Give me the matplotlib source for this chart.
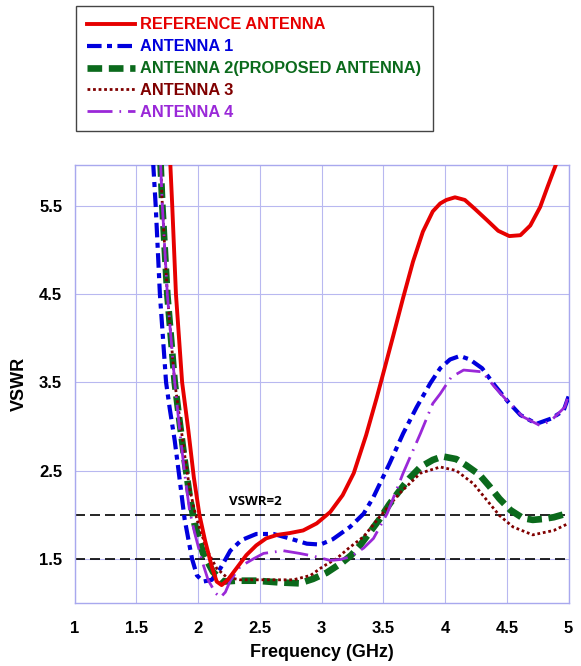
import numpy as np
import matplotlib
matplotlib.use("Agg")
import matplotlib.pyplot as plt

plt.rcParams['font.family'] = ['Liberation Sans', 'DejaVu Sans']
plt.rcParams['font.weight'] = 'bold'

# values (frequency in GHz, VSWR)
ref_f = [1.772, 1.79, 1.82, 1.87, 1.92, 1.965, 2.01, 2.055, 2.11, 2.15, 2.19, 2.24, 2.31,
         2.39, 2.47, 2.55, 2.64, 2.74, 2.85, 2.96, 3.07, 3.17, 3.26, 3.36, 3.445, 3.51,
         3.58, 3.66, 3.74, 3.82, 3.90, 3.96, 4.01, 4.08, 4.16, 4.24, 4.34, 4.43, 4.52,
         4.61, 4.69, 4.77, 4.83, 4.90]
ref_v = [6.05, 5.50, 4.50, 3.50, 2.96, 2.42, 2.00, 1.71, 1.41, 1.24, 1.20, 1.26, 1.39,
         1.54, 1.65, 1.73, 1.77, 1.79, 1.82, 1.90, 2.03, 2.22, 2.47, 2.90, 3.32, 3.66,
         4.03, 4.46, 4.87, 5.21, 5.44, 5.53, 5.57, 5.60, 5.57, 5.47, 5.34, 5.22, 5.16,
         5.17, 5.28, 5.49, 5.72, 5.98]

a1_f = [1.635, 1.656, 1.69, 1.74, 1.77, 1.81, 1.85, 1.89, 1.95, 1.99, 2.04, 2.11, 2.18,
        2.26, 2.35, 2.47, 2.61, 2.74, 2.88, 2.99, 3.09, 3.23, 3.34, 3.42, 3.55, 3.66,
        3.77, 3.88, 3.96, 4.04, 4.12, 4.20, 4.30, 4.40, 4.51, 4.61, 4.74, 4.86, 4.96, 5.00]
a1_v = [6.00, 5.50, 4.50, 3.50, 3.20, 2.84, 2.40, 1.95, 1.50, 1.31, 1.24, 1.26, 1.39,
        1.59, 1.71, 1.78, 1.78, 1.73, 1.67, 1.66, 1.72, 1.86, 2.01, 2.20, 2.58, 2.92,
        3.22, 3.49, 3.66, 3.76, 3.80, 3.76, 3.66, 3.47, 3.28, 3.13, 3.03, 3.09, 3.18, 3.34]

a2_f = [1.695, 1.71, 1.75, 1.81, 1.85, 1.89, 1.93, 1.97, 2.04, 2.12, 2.20, 2.31, 2.47,
        2.66, 2.82, 2.93, 3.04, 3.17, 3.24, 3.31, 3.38, 3.47, 3.55, 3.63, 3.71, 3.80,
        3.90, 3.98, 4.09, 4.17, 4.28, 4.36, 4.44, 4.53, 4.63, 4.71, 4.79, 4.88, 4.98]
a2_v = [6.00, 5.50, 4.50, 3.50, 3.05, 2.62, 2.22, 1.90, 1.56, 1.35, 1.24, 1.25, 1.25,
        1.23, 1.22, 1.27, 1.34, 1.46, 1.54, 1.65, 1.78, 1.95, 2.12, 2.27, 2.41, 2.54,
        2.62, 2.66, 2.63, 2.56, 2.45, 2.32, 2.18, 2.05, 1.96, 1.94, 1.95, 1.97, 2.01]

a3_f = [1.695, 1.71, 1.75, 1.81, 1.85, 1.89, 1.93, 1.97, 2.00, 2.07, 2.15, 2.23, 2.34,
        2.58, 2.77, 2.91, 3.01, 3.12, 3.22, 3.34, 3.47, 3.63, 3.80, 3.96, 4.09, 4.23,
        4.34, 4.44, 4.55, 4.71, 4.88, 5.00]
a3_v = [6.00, 5.50, 4.50, 3.50, 3.10, 2.68, 2.30, 2.05, 1.90, 1.60, 1.39, 1.29, 1.26,
        1.26, 1.26, 1.31, 1.41, 1.50, 1.62, 1.75, 1.975, 2.24, 2.47, 2.54, 2.50, 2.35,
        2.16, 1.99, 1.86, 1.77, 1.82, 1.90]

a4_f = [1.695, 1.71, 1.75, 1.81, 1.85, 1.89, 1.93, 1.97, 2.03, 2.08, 2.14, 2.18, 2.22,
        2.26, 2.34, 2.45, 2.53, 2.69, 2.82, 2.93, 3.07, 3.15, 3.23, 3.34, 3.42, 3.53,
        3.66, 3.80, 3.90, 3.96, 4.05, 4.15, 4.30, 4.40, 4.51, 4.63, 4.77, 4.86, 4.97, 5.00]
a4_v = [6.00, 5.50, 4.50, 3.50, 2.96, 2.47, 2.05, 1.80, 1.48, 1.26, 1.11, 1.06, 1.12,
        1.25, 1.41, 1.50, 1.56, 1.59, 1.56, 1.53, 1.48, 1.49, 1.52, 1.62, 1.73, 2.01,
        2.47, 2.92, 3.26, 3.37, 3.56, 3.64, 3.62, 3.45, 3.28, 3.11, 3.01, 3.07, 3.22, 3.36]

labels = ['REFERENCE ANTENNA', 'ANTENNA 1', 'ANTENNA 2(PROPOSED ANTENNA)',
          'ANTENNA 3', 'ANTENNA 4']
xticks = [1, 1.5, 2, 2.5, 3, 3.5, 4, 4.5, 5]
yticks = [1.5, 2.5, 3.5, 4.5, 5.5]

fig = plt.figure(figsize=(5.81, 6.66), dpi=100)
ax = fig.add_axes([0.1286, 0.095, 0.85, 0.6577])

l1, = ax.plot(a1_f, a1_v, color='#0000dd', lw=3, ls=(0, (3.5, 1.3, 1.2, 1.3)), zorder=3)
l2, = ax.plot(a2_f, a2_v, color='#0b6a1c', lw=4.8, ls=(0, (2.2, 1.0)), zorder=3)
l3, = ax.plot(a3_f, a3_v, color='#800000', lw=2, ls=(0, (1, 1)), zorder=4)
l4, = ax.plot(a4_f, a4_v, color='#9a28d8', lw=2, ls=(0, (9, 2.5, 0.6, 2.5)), zorder=4)
l0, = ax.plot(ref_f, ref_v, color='#e60000', lw=2.8, zorder=5)

ax.axhline(2, color='black', lw=1.2, ls=(0, (6, 3)), zorder=2)
ax.axhline(1.5, color='black', lw=1.2, ls=(0, (6, 3)), zorder=2)
ax.text(2.25, 2.145, 'VSWR=2', fontsize=9.5, fontweight='bold', va='center',
        family=['Open Sans', 'DejaVu Sans'])

ax.set_xlim(1, 5)
ax.set_ylim(1, 5.97)
ax.set_xticks(xticks)
ax.set_xticklabels(['1', '1.5', '2', '2.5', '3', '3.5', '4', '4.5', '5'])
ax.set_yticks(yticks)
ax.tick_params(length=0, labelsize=12)
ax.tick_params(axis='y', pad=9)
ax.tick_params(axis='x', pad=13)
ax.grid(True, color='#b8b8f0', lw=0.8)
ax.set_axisbelow(True)
for s in ax.spines.values():
    s.set_color('#a8a8ee')
    s.set_linewidth(1)

ax.set_xlabel('Frequency (GHz)', fontsize=13, fontweight='bold', labelpad=6)
ax.set_ylabel('VSWR', fontsize=13, fontweight='bold', labelpad=8)

leg = fig.legend([l0, l1, l2, l3, l4], labels, loc='upper left',
                 bbox_to_anchor=(76 / 581, 1 - 6 / 666), fontsize=11.8,
                 labelcolor='linecolor', handlelength=2.9, handletextpad=0.3,
                 labelspacing=0.42, borderpad=0.7, borderaxespad=0,
                 fancybox=False, framealpha=1)
leg.get_frame().set_edgecolor('#444444')
leg.get_frame().set_linewidth(1)

fig.savefig('out.png', dpi=100)
